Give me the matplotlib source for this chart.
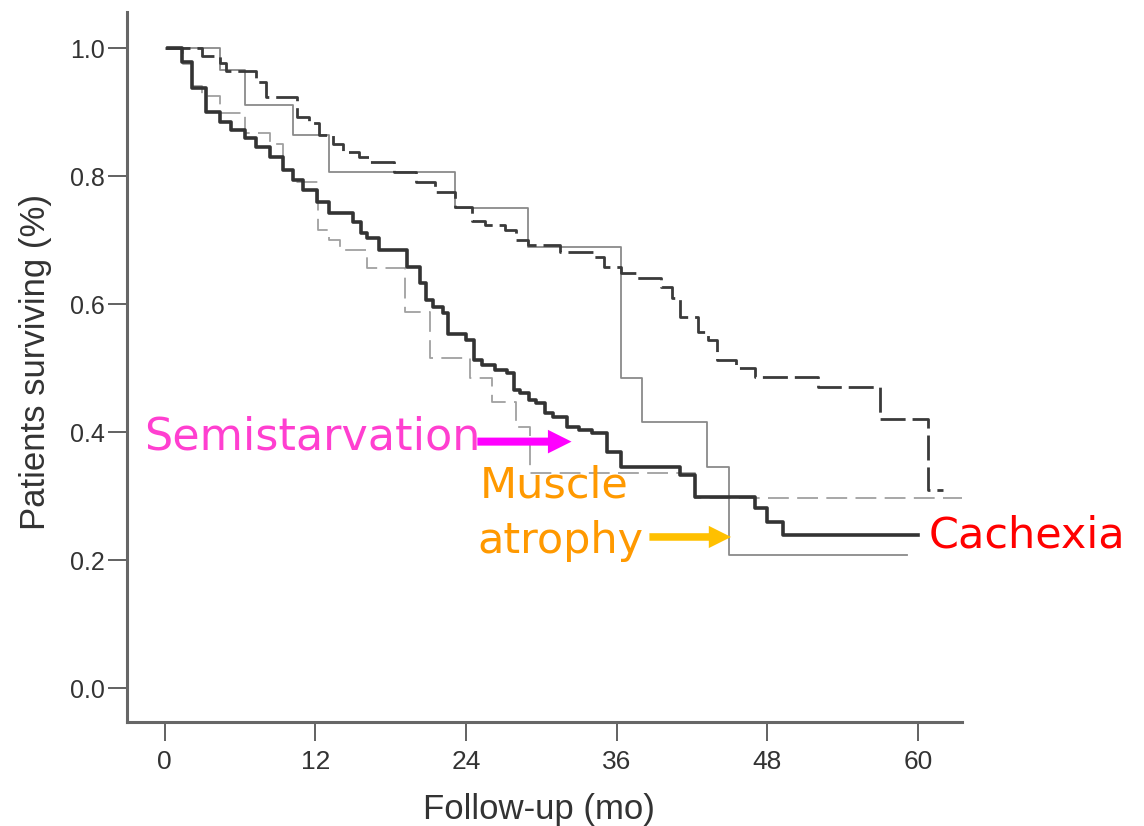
import matplotlib
matplotlib.use('Agg')
import matplotlib.pyplot as plt

plt.rcParams['font.family'] = ['Liberation Sans', 'DejaVu Sans']
plt.rcParams['lines.scale_dashes'] = False

# Kaplan-Meier style curves (months, fraction surviving)
dark_dashed_t = [0, 3.0, 4.4, 4.9, 7.3, 8.1, 10.5, 11.5, 12.3, 13.4, 14.2, 15.5, 16.3, 18.3,
                 20.0, 21.5, 23.1, 24.5, 25.5, 27.1, 28.0, 28.9, 31.5, 34.1, 35.0, 36.3, 37.5,
                 39.5, 40.4, 41.0, 42.5, 43.3, 44.0, 45.5, 47.0, 52.0, 57.0, 60.8, 62.0]
dark_dashed_s = [1.0, 0.988, 0.977, 0.964, 0.947, 0.924, 0.892, 0.883, 0.864, 0.850, 0.838, 0.830,
                 0.822, 0.806, 0.790, 0.775, 0.752, 0.730, 0.723, 0.715, 0.700, 0.692, 0.681, 0.673,
                 0.658, 0.648, 0.640, 0.627, 0.610, 0.580, 0.557, 0.544, 0.512, 0.500, 0.486, 0.470,
                 0.420, 0.310, 0.310]

thin_solid_t = [0.3, 4.4, 6.4, 10.2, 13.1, 23.1, 28.9, 36.3, 38.0, 43.2, 44.9, 59.1]
thin_solid_s = [1.0, 0.966, 0.911, 0.864, 0.806, 0.750, 0.689, 0.484, 0.416, 0.345, 0.208, 0.208]

thick_solid_t = [0.3, 1.4, 2.2, 3.3, 4.4, 5.3, 6.4, 7.3, 8.4, 9.4, 10.2, 11.0, 12.1, 13.1, 15.0,
                 15.6, 16.1, 17.1, 19.3, 20.3, 20.8, 21.4, 22.2, 22.6, 24.0, 24.6, 25.3, 26.3,
                 27.3, 27.8, 28.3, 29.0, 29.6, 30.3, 30.9, 32.0, 33.0, 34.0, 35.2, 36.3, 41.0,
                 42.2, 47.0, 48.0, 49.2, 60.0]
thick_solid_s = [1.0, 0.978, 0.937, 0.900, 0.884, 0.872, 0.860, 0.845, 0.830, 0.810, 0.794, 0.778,
                 0.760, 0.742, 0.728, 0.711, 0.703, 0.684, 0.658, 0.633, 0.606, 0.595, 0.586,
                 0.553, 0.544, 0.512, 0.505, 0.497, 0.492, 0.466, 0.461, 0.450, 0.445, 0.430,
                 0.423, 0.408, 0.403, 0.398, 0.369, 0.345, 0.333, 0.298, 0.281, 0.260, 0.239, 0.239]

light_dashed_t = [0.3, 1.5, 2.2, 3.0, 4.4, 6.4, 8.4, 9.4, 10.2, 12.2, 13.1, 14.0, 16.1, 19.1,
                  21.1, 24.3, 26.1, 28.0, 29.1, 42.2, 63.5]
light_dashed_s = [1.0, 0.975, 0.940, 0.925, 0.898, 0.867, 0.850, 0.810, 0.790, 0.716, 0.700,
                  0.684, 0.656, 0.588, 0.516, 0.484, 0.447, 0.408, 0.336, 0.297, 0.297]

x_ticks = [0, 12, 24, 36, 48, 60]
y_ticks = [0.0, 0.2, 0.4, 0.6, 0.8, 1.0]

fig = plt.figure(figsize=(11.44, 8.26), dpi=100)
ax = fig.add_axes([0.111, 0.126, 0.73, 0.86])

ax.plot(light_dashed_t, light_dashed_s, drawstyle='steps-post', color='#a0a0a0', lw=1.3,
        dashes=(15, 6))
ax.plot(thin_solid_t, thin_solid_s, drawstyle='steps-post', color='#8a8a8a', lw=1.3)
ax.plot(dark_dashed_t, dark_dashed_s, drawstyle='steps-post', color='#3a3a3a', lw=2.0,
        dashes=(18, 5))
ax.plot(thick_solid_t, thick_solid_s, drawstyle='steps-post', color='#333333', lw=2.6)

ax.set_xlim(-3.0, 63.5)
ax.set_ylim(-0.053, 1.057)
ax.set_xticks(x_ticks)
ax.set_yticks(y_ticks)
ax.set_yticklabels([f'{v:.1f}' for v in y_ticks])
ax.tick_params(axis='both', direction='out', length=14, width=1.3, color='#555555',
               labelsize=18, labelcolor='#333333', pad=2)
ax.tick_params(axis='x', pad=6, labelsize=19)

for side in ['top', 'right']:
    ax.spines[side].set_visible(False)
for side in ['left', 'bottom']:
    ax.spines[side].set_color('#666666')
    ax.spines[side].set_linewidth(2.2)

ax.set_xlabel('Follow-up (mo)', fontsize=25, color='#333333')
ax.set_ylabel('Patients surviving (%)', fontsize=25, color='#333333')
ax.xaxis.set_label_coords(0.493, -0.100)
ax.yaxis.set_label_coords(-0.090, 0.507)

# annotations
ax.text(-1.6, 0.372, 'Semistarvation', fontsize=32, color='#ff3fd0', ha='left',
        va='baseline', family='DejaVu Sans', clip_on=False)
ax.text(25.1, 0.297, 'Muscle', fontsize=31, color='#ff9900', ha='left', va='baseline',
        family='DejaVu Sans', clip_on=False)
ax.text(24.9, 0.211, 'atrophy', fontsize=31, color='#ff9900', ha='left', va='baseline',
        family='DejaVu Sans', clip_on=False)
ax.text(60.8, 0.220, 'Cachexia', fontsize=31, color='#ff0000', ha='left', va='baseline',
        family='DejaVu Sans', clip_on=False)

arrow_style = 'simple,head_length=0.5,head_width=0.5,tail_width=0.17'
ax.annotate('', xy=(32.4, 0.385), xytext=(24.9, 0.385),
            arrowprops=dict(arrowstyle=arrow_style, mutation_scale=34, color='#ff00ff',
                            shrinkA=0, shrinkB=0, lw=0))
ax.annotate('', xy=(45.1, 0.236), xytext=(38.6, 0.236),
            arrowprops=dict(arrowstyle=arrow_style, mutation_scale=32, color='#ffc000',
                            shrinkA=0, shrinkB=0, lw=0))

fig.savefig('out.png', dpi=100, facecolor='white')
